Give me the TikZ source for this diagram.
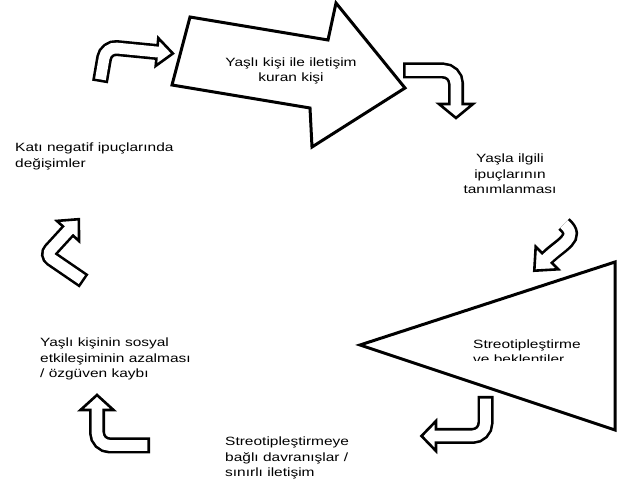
\documentclass[tikz,border=0pt]{standalone}
\usepackage{fontspec}
\setmainfont{Liberation Sans}[FakeStretch=1.29]
\usepackage{tikz}
\usetikzlibrary{shapes,arrows}
\tikzstyle{outline} = [draw, fill=white, line width=3pt, line join=miter]
\tikzstyle{headBK} = [draw, fill=white, line width=2.6pt, line join=miter]
\tikzstyle{shaftBK} = [draw=black, line width=16pt]
\tikzstyle{shaftWH} = [draw=white, line width=10.8pt, shorten <=2.6pt, shorten >=-2pt]
\tikzstyle{txt} = [inner sep=0pt, font=\fontsize{12}{15.5}\selectfont]
% bent block arrow: [options] {shaft path} {head corners}
\newcommand{\bentarrow}[3][]{%
  \filldraw[headBK] #3 -- cycle;
  \draw[shaftBK,#1] #2;
  \draw[shaftWH,#1] #2;
}

\begin{document}
\begin{tikzpicture}[x=1pt, y=-1pt]
  \useasboundingbox (0,0) rectangle (619,486);

  % big shapes
  \filldraw[outline] (190,17) -- (328,40) -- (336,3) -- (405,88) -- (312,147) -- (310,108) -- (172,85) -- cycle;
  \filldraw[outline] (360,345) -- (615,262) -- (615,430) -- cycle;

  % bent arrows
  \bentarrow[rounded corners=11pt]{(100,82) -- (106,47) -- (157,52)}{(155.7,65.9) -- (172.9,53.5) -- (158.3,38.1)}
  \bentarrow[rounded corners=13pt]{(403,70.5) -- (456,70.5) -- (456,104)}{(439,104) -- (456,118) -- (473,104)}
  \bentarrow[shorten <=0pt]{(564,224) .. controls (580,238) and (561,244) .. (547,258)}{(558.3,269.3) -- (534.3,270.7) -- (535.7,246.7)}
  \bentarrow[rounded corners=13pt]{(485.5,396) -- (485.5,436) -- (436,436)}{(436,421) -- (421.5,436) -- (436,451)}
  \bentarrow[rounded corners=13pt]{(150,445.5) -- (97,445.5) -- (97,410)}{(80.5,410) -- (97,395) -- (113.5,410)}
  \bentarrow[rounded corners=7pt]{(84,281) -- (46,255) -- (68,231)}{(79.1,241.1) -- (78.8,219.2) -- (56.9,220.9)}

  % texts (anchored at the baseline of the last line)
  \node[txt, anchor=base, align=center] (kisi) at (291,82) {Yaşlı kişi ile iletişim\\kuran kişi};
  \node[txt, anchor=base, align=center] (ipucu) at (510,194) {Yaşla ilgili\\ipuçlarının\\tanımlanması};
  \begin{scope}
    \clip (460,330) rectangle (605,361);
    \node[txt, anchor=base west, align=left] (streo) at (473,363.8) {Streotipleştirme\\ve beklentiler};
  \end{scope}
  \node[txt, anchor=base west, align=left] (davran) at (225,476.7) {Streotipleştirmeye\\bağlı davranışlar /\\sınırlı iletişim};
  \begin{scope}
    \clip (30,325) rectangle (230,379.5);
    \node[txt, anchor=base west, align=left] (sosyal) at (40,378) {Yaşlı kişinin sosyal\\etkileşiminin azalması\\/ özgüven kaybı};
  \end{scope}
  \node[txt, anchor=base west, align=left] (kati) at (15,167.5) {Katı negatif ipuçlarında\\değişimler};
\end{tikzpicture}
\end{document}
